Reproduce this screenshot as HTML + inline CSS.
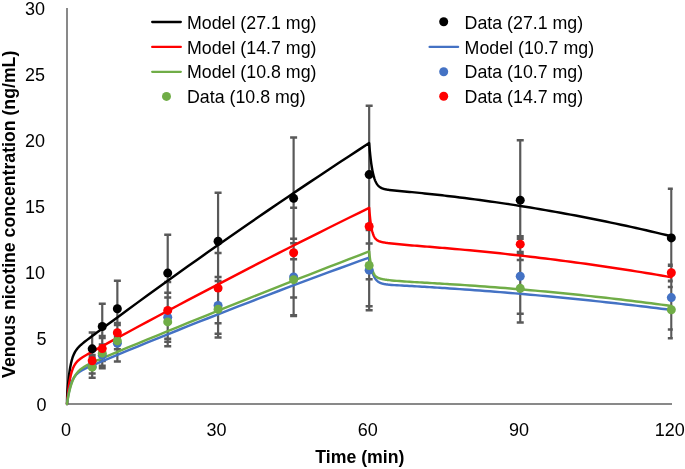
<!DOCTYPE html>
<html><head><meta charset="utf-8"><style>
html,body{margin:0;padding:0;background:#fff;}
svg{display:block;font-family:"Liberation Sans",sans-serif;will-change:transform;}
</style></head><body>
<svg width="685" height="469" viewBox="0 0 685 469">
<defs><clipPath id="pc"><rect x="0" y="0" width="672.8" height="469"/></clipPath></defs>
<rect width="685" height="469" fill="#fff"/>
<path d="M67,8V404H672" stroke="#898989" stroke-width="2" fill="none"/>
<path clip-path="url(#pc)" d="M92.18,332.46V365.19 M102.25,303.81V349.22 M117.36,280.71V336.68 M167.72,234.64V311.47 M218.08,192.80V289.69 M293.62,137.49V259.20 M369.16,105.68V243.49 M520.24,140.26V260.12 M671.32,188.84V287.05 M92.18,355.03V377.73 M102.25,344.47V365.85 M117.36,325.06V361.50 M167.72,292.72V341.83 M218.08,277.02V333.78 M293.62,238.74V315.30 M369.16,230.02V310.28 M520.24,238.74V313.71 M671.32,265.66V329.55 M92.18,360.84V373.51 M102.25,338.00V368.36 M117.36,332.46V349.35 M167.72,297.48V346.32 M218.08,280.98V337.47 M293.62,243.36V315.96 M369.16,224.88V306.19 M520.24,254.18V322.56 M671.32,281.24V338.26 M92.18,356.74V364.66 M102.25,336.02V361.10 M117.36,322.95V342.49 M167.72,282.03V338.79 M218.08,252.99V323.22 M293.62,207.85V297.61 M369.16,173.66V279.26 M520.24,236.23V252.07 M671.32,264.87V280.71" stroke="#595959" stroke-width="2.2" fill="none"/>
<path clip-path="url(#pc)" d="M88.68,332.46H95.68M88.68,365.19H95.68 M98.75,303.81H105.75M98.75,349.22H105.75 M113.86,280.71H120.86M113.86,336.68H120.86 M164.22,234.64H171.22M164.22,311.47H171.22 M214.58,192.80H221.58M214.58,289.69H221.58 M290.12,137.49H297.12M290.12,259.20H297.12 M365.66,105.68H372.66M365.66,243.49H372.66 M516.74,140.26H523.74M516.74,260.12H523.74 M667.82,188.84H674.82M667.82,287.05H674.82 M88.68,355.03H95.68M88.68,377.73H95.68 M98.75,344.47H105.75M98.75,365.85H105.75 M113.86,325.06H120.86M113.86,361.50H120.86 M164.22,292.72H171.22M164.22,341.83H171.22 M214.58,277.02H221.58M214.58,333.78H221.58 M290.12,238.74H297.12M290.12,315.30H297.12 M365.66,230.02H372.66M365.66,310.28H372.66 M516.74,238.74H523.74M516.74,313.71H523.74 M667.82,265.66H674.82M667.82,329.55H674.82 M88.68,360.84H95.68M88.68,373.51H95.68 M98.75,338.00H105.75M98.75,368.36H105.75 M113.86,332.46H120.86M113.86,349.35H120.86 M164.22,297.48H171.22M164.22,346.32H171.22 M214.58,280.98H221.58M214.58,337.47H221.58 M290.12,243.36H297.12M290.12,315.96H297.12 M365.66,224.88H372.66M365.66,306.19H372.66 M516.74,254.18H523.74M516.74,322.56H523.74 M667.82,281.24H674.82M667.82,338.26H674.82 M88.68,356.74H95.68M88.68,364.66H95.68 M98.75,336.02H105.75M98.75,361.10H105.75 M113.86,322.95H120.86M113.86,342.49H120.86 M164.22,282.03H171.22M164.22,338.79H171.22 M214.58,252.99H221.58M214.58,323.22H221.58 M290.12,207.85H297.12M290.12,297.61H297.12 M365.66,173.66H372.66M365.66,279.26H372.66 M516.74,236.23H523.74M516.74,252.07H523.74 M667.82,264.87H674.82M667.82,280.71H674.82" stroke="#595959" stroke-width="2.5" fill="none"/>
<path d="M67.00,404.00 L67.05,400.55 L67.10,398.19 L67.15,396.48 L67.20,395.19 L67.25,394.14 L67.30,393.24 L67.35,392.45 L67.40,391.72 L67.45,391.03 L67.50,390.37 L67.55,389.73 L67.60,389.11 L67.65,388.50 L67.71,387.91 L67.76,387.32 L67.76,387.32 L67.81,386.75 L67.86,386.18 L67.91,385.63 L67.96,385.08 L68.01,384.54 L68.26,381.96 L68.51,379.57 L68.76,377.35 L69.01,375.29 L69.27,373.38 L69.52,371.61 L69.77,369.95 L70.02,368.42 L70.27,366.99 L70.53,365.66 L70.78,364.41 L71.03,363.25 L71.28,362.17 L71.53,361.16 L71.78,360.21 L72.04,359.32 L72.29,358.49 L72.54,357.70 L72.79,356.97 L73.04,356.27 L73.30,355.62 L73.55,355.00 L73.80,354.42 L74.05,353.87 L74.30,353.34 L74.55,352.85 L74.81,352.37 L75.06,351.92 L75.31,351.49 L75.56,351.08 L75.81,350.69 L76.06,350.31 L76.32,349.95 L76.57,349.60 L76.82,349.26 L77.07,348.94 L77.32,348.62 L77.58,348.32 L77.83,348.02 L78.08,347.74 L78.33,347.46 L78.58,347.18 L78.83,346.92 L79.09,346.66 L79.34,346.41 L79.59,346.16 L79.84,345.91 L80.09,345.67 L80.35,345.44 L80.60,345.21 L80.85,344.98 L81.10,344.75 L81.35,344.53 L81.60,344.31 L81.86,344.09 L82.11,343.88 L84.63,341.82 L87.14,339.86 L89.66,337.95 L92.18,336.06 L94.70,334.18 L97.22,332.30 L99.73,330.43 L102.25,328.56 L104.77,326.69 L107.29,324.83 L117.36,317.39 L127.43,309.99 L137.50,302.63 L147.58,295.30 L157.65,288.01 L167.72,280.75 L177.79,273.53 L187.86,266.34 L197.94,259.19 L208.01,252.08 L218.08,245.00 L228.15,237.96 L238.22,230.95 L248.30,223.97 L258.37,217.04 L268.44,210.13 L278.51,203.27 L288.58,196.44 L298.66,189.64 L308.73,182.88 L318.80,176.16 L328.87,169.47 L338.94,162.81 L349.02,156.20 L359.09,149.61 L369.16,143.07 L369.41,146.18 L369.66,149.09 L369.92,151.79 L370.17,154.32 L370.42,156.67 L370.67,158.87 L370.92,160.91 L371.17,162.82 L371.43,164.60 L371.68,166.26 L371.93,167.81 L372.18,169.25 L372.43,170.60 L372.69,171.86 L372.94,173.03 L373.19,174.12 L373.44,175.14 L373.69,176.10 L373.94,176.98 L374.20,177.81 L374.45,178.59 L374.70,179.31 L374.95,179.99 L375.20,180.62 L375.45,181.20 L375.71,181.75 L375.96,182.27 L376.21,182.75 L376.46,183.20 L376.71,183.62 L376.97,184.01 L377.22,184.38 L377.47,184.72 L377.72,185.04 L377.97,185.34 L378.22,185.62 L378.48,185.89 L378.73,186.13 L378.98,186.37 L379.23,186.58 L379.48,186.79 L379.74,186.98 L379.99,187.16 L380.24,187.33 L380.49,187.49 L380.74,187.63 L380.99,187.78 L381.25,187.91 L381.50,188.03 L381.75,188.15 L382.00,188.26 L382.25,188.37 L382.51,188.46 L382.76,188.56 L383.01,188.65 L383.26,188.73 L383.51,188.81 L383.76,188.89 L384.02,188.96 L384.27,189.03 L384.52,189.09 L384.77,189.16 L385.02,189.22 L385.28,189.27 L385.53,189.33 L385.78,189.38 L386.03,189.43 L386.28,189.48 L386.53,189.52 L386.79,189.57 L387.04,189.61 L387.29,189.65 L387.54,189.69 L387.79,189.73 L388.04,189.77 L388.30,189.81 L388.55,189.84 L388.80,189.88 L389.05,189.91 L389.30,189.94 L391.82,190.24 L394.34,190.49 L396.86,190.73 L399.38,190.97 L401.89,191.20 L404.41,191.43 L406.93,191.67 L409.45,191.91 L411.97,192.15 L414.48,192.40 L417.00,192.64 L419.52,192.90 L422.04,193.15 L424.56,193.41 L427.07,193.68 L429.59,193.94 L432.11,194.21 L434.63,194.49 L437.15,194.77 L439.66,195.05 L442.18,195.33 L444.70,195.62 L447.22,195.91 L449.74,196.21 L454.77,196.81 L459.81,197.43 L464.84,198.06 L469.88,198.70 L474.92,199.36 L479.95,200.03 L484.99,200.72 L490.02,201.42 L495.06,202.14 L500.10,202.87 L505.13,203.62 L510.17,204.38 L515.20,205.15 L520.24,205.94 L525.28,206.74 L530.31,207.56 L535.35,208.39 L540.38,209.24 L545.42,210.09 L550.46,210.97 L555.49,211.86 L560.53,212.76 L565.56,213.68 L570.60,214.61 L575.64,215.55 L580.67,216.52 L585.71,217.49 L590.74,218.48 L595.78,219.48 L600.82,220.50 L605.85,221.53 L610.89,222.58 L615.92,223.64 L620.96,224.71 L626.00,225.80 L631.03,226.90 L636.07,228.02 L641.10,229.15 L646.14,230.30 L651.18,231.46 L656.21,232.64 L661.25,233.83 L666.28,235.03 L671.32,236.25" stroke="#000000" stroke-width="2.45" fill="none" stroke-linejoin="round" stroke-linecap="round"/>
<path d="M67.00,404.00 L67.05,403.37 L67.10,402.76 L67.15,402.15 L67.20,401.55 L67.25,400.96 L67.30,400.38 L67.35,399.81 L67.40,399.25 L67.45,398.69 L67.50,398.14 L67.55,397.60 L67.60,397.07 L67.65,396.55 L67.71,396.03 L67.76,395.53 L67.76,395.53 L67.81,395.02 L67.86,394.53 L67.91,394.05 L67.96,393.57 L68.01,393.09 L68.26,390.84 L68.51,388.74 L68.76,386.79 L69.01,384.98 L69.27,383.29 L69.52,381.72 L69.77,380.25 L70.02,378.89 L70.27,377.62 L70.53,376.44 L70.78,375.33 L71.03,374.30 L71.28,373.33 L71.53,372.43 L71.78,371.58 L72.04,370.79 L72.29,370.05 L72.54,369.35 L72.79,368.69 L73.04,368.08 L73.30,367.49 L73.55,366.95 L73.80,366.43 L74.05,365.94 L74.30,365.48 L74.55,365.04 L74.81,364.63 L75.06,364.23 L75.31,363.86 L75.56,363.50 L75.81,363.16 L76.06,362.84 L76.32,362.53 L76.57,362.23 L76.82,361.94 L77.07,361.67 L77.32,361.40 L77.58,361.15 L77.83,360.90 L78.08,360.66 L78.33,360.43 L78.58,360.21 L78.83,359.99 L79.09,359.78 L79.34,359.57 L79.59,359.37 L79.84,359.17 L80.09,358.98 L80.35,358.79 L80.60,358.61 L80.85,358.43 L81.10,358.25 L81.35,358.08 L81.60,357.91 L81.86,357.74 L82.11,357.57 L84.63,355.99 L87.14,354.52 L89.66,353.10 L92.18,351.70 L94.70,350.31 L97.22,348.93 L99.73,347.55 L102.25,346.17 L104.77,344.80 L107.29,343.42 L117.36,337.94 L127.43,332.48 L137.50,327.04 L147.58,321.62 L157.65,316.23 L167.72,310.85 L177.79,305.50 L187.86,300.17 L197.94,294.86 L208.01,289.57 L218.08,284.30 L228.15,279.05 L238.22,273.83 L248.30,268.62 L258.37,263.44 L268.44,258.28 L278.51,253.14 L288.58,248.02 L298.66,242.93 L308.73,237.85 L318.80,232.80 L328.87,227.77 L338.94,222.76 L349.02,217.77 L359.09,212.80 L369.16,207.85 L369.41,211.02 L369.66,213.88 L369.92,216.47 L370.17,218.81 L370.42,220.92 L370.67,222.84 L370.92,224.58 L371.17,226.15 L371.43,227.57 L371.68,228.86 L371.93,230.03 L372.18,231.09 L372.43,232.05 L372.69,232.92 L372.94,233.72 L373.19,234.44 L373.44,235.09 L373.69,235.69 L373.94,236.23 L374.20,236.73 L374.45,237.18 L374.70,237.59 L374.95,237.97 L375.20,238.31 L375.45,238.63 L375.71,238.92 L375.96,239.18 L376.21,239.43 L376.46,239.65 L376.71,239.86 L376.97,240.05 L377.22,240.23 L377.47,240.40 L377.72,240.55 L377.97,240.69 L378.22,240.82 L378.48,240.95 L378.73,241.06 L378.98,241.17 L379.23,241.27 L379.48,241.37 L379.74,241.46 L379.99,241.54 L380.24,241.62 L380.49,241.70 L380.74,241.77 L380.99,241.84 L381.25,241.91 L381.50,241.97 L381.75,242.03 L382.00,242.09 L382.25,242.15 L382.51,242.20 L382.76,242.25 L383.01,242.30 L383.26,242.35 L383.51,242.40 L383.76,242.45 L384.02,242.49 L384.27,242.54 L384.52,242.58 L384.77,242.62 L385.02,242.66 L385.28,242.70 L385.53,242.74 L385.78,242.78 L386.03,242.82 L386.28,242.85 L386.53,242.89 L386.79,242.93 L387.04,242.96 L387.29,243.00 L387.54,243.03 L387.79,243.07 L388.04,243.10 L388.30,243.13 L388.55,243.16 L388.80,243.20 L389.05,243.23 L389.30,243.26 L391.82,243.56 L394.34,243.83 L396.86,244.09 L399.38,244.33 L401.89,244.57 L404.41,244.79 L406.93,245.01 L409.45,245.22 L411.97,245.42 L414.48,245.63 L417.00,245.83 L419.52,246.03 L422.04,246.24 L424.56,246.44 L427.07,246.64 L429.59,246.84 L432.11,247.05 L434.63,247.25 L437.15,247.46 L439.66,247.67 L442.18,247.88 L444.70,248.09 L447.22,248.30 L449.74,248.52 L454.77,248.96 L459.81,249.40 L464.84,249.86 L469.88,250.33 L474.92,250.80 L479.95,251.29 L484.99,251.79 L490.02,252.29 L495.06,252.81 L500.10,253.34 L505.13,253.87 L510.17,254.42 L515.20,254.98 L520.24,255.54 L525.28,256.12 L530.31,256.71 L535.35,257.30 L540.38,257.91 L545.42,258.53 L550.46,259.15 L555.49,259.79 L560.53,260.44 L565.56,261.09 L570.60,261.76 L575.64,262.44 L580.67,263.13 L585.71,263.82 L590.74,264.53 L595.78,265.25 L600.82,265.97 L605.85,266.71 L610.89,267.46 L615.92,268.22 L620.96,268.99 L626.00,269.76 L631.03,270.55 L636.07,271.35 L641.10,272.16 L646.14,272.97 L651.18,273.80 L656.21,274.64 L661.25,275.49 L666.28,276.35 L671.32,277.22" stroke="#FF0000" stroke-width="2.45" fill="none" stroke-linejoin="round" stroke-linecap="round"/>
<path d="M67.00,404.00 L67.05,403.61 L67.10,403.23 L67.15,402.85 L67.20,402.47 L67.25,402.10 L67.30,401.74 L67.35,401.37 L67.40,401.02 L67.45,400.67 L67.50,400.32 L67.55,399.97 L67.60,399.63 L67.65,399.30 L67.71,398.97 L67.76,398.64 L67.76,398.64 L67.81,398.32 L67.86,398.00 L67.91,397.68 L67.96,397.37 L68.01,397.07 L68.26,395.58 L68.51,394.19 L68.76,392.88 L69.01,391.65 L69.27,390.48 L69.52,389.39 L69.77,388.36 L70.02,387.39 L70.27,386.47 L70.53,385.61 L70.78,384.80 L71.03,384.03 L71.28,383.30 L71.53,382.61 L71.78,381.96 L72.04,381.35 L72.29,380.76 L72.54,380.21 L72.79,379.69 L73.04,379.19 L73.30,378.72 L73.55,378.27 L73.80,377.85 L74.05,377.44 L74.30,377.05 L74.55,376.68 L74.81,376.33 L75.06,376.00 L75.31,375.68 L75.56,375.37 L75.81,375.07 L76.06,374.79 L76.32,374.52 L76.57,374.26 L76.82,374.01 L77.07,373.77 L77.32,373.53 L77.58,373.31 L77.83,373.09 L78.08,372.88 L78.33,372.68 L78.58,372.48 L78.83,372.29 L79.09,372.10 L79.34,371.92 L79.59,371.75 L79.84,371.57 L80.09,371.41 L80.35,371.24 L80.60,371.08 L80.85,370.93 L81.10,370.77 L81.35,370.62 L81.60,370.48 L81.86,370.33 L82.11,370.19 L84.63,368.87 L87.14,367.68 L89.66,366.55 L92.18,365.46 L94.70,364.38 L97.22,363.32 L99.73,362.26 L102.25,361.20 L104.77,360.15 L107.29,359.10 L117.36,354.91 L127.43,350.74 L137.50,346.60 L147.58,342.48 L157.65,338.38 L167.72,334.31 L177.79,330.26 L187.86,326.23 L197.94,322.22 L208.01,318.24 L218.08,314.27 L228.15,310.33 L238.22,306.42 L248.30,302.53 L258.37,298.65 L268.44,294.81 L278.51,290.98 L288.58,287.18 L298.66,283.40 L308.73,279.64 L318.80,275.91 L328.87,272.19 L338.94,268.50 L349.02,264.84 L359.09,261.19 L369.16,257.57 L369.41,259.22 L369.66,260.77 L369.92,262.22 L370.17,263.58 L370.42,264.86 L370.67,266.05 L370.92,267.18 L371.17,268.24 L371.43,269.23 L371.68,270.16 L371.93,271.03 L372.18,271.85 L372.43,272.62 L372.69,273.34 L372.94,274.02 L373.19,274.66 L373.44,275.26 L373.69,275.82 L373.94,276.35 L374.20,276.84 L374.45,277.31 L374.70,277.75 L374.95,278.16 L375.20,278.55 L375.45,278.91 L375.71,279.25 L375.96,279.57 L376.21,279.87 L376.46,280.16 L376.71,280.42 L376.97,280.68 L377.22,280.91 L377.47,281.13 L377.72,281.34 L377.97,281.54 L378.22,281.73 L378.48,281.90 L378.73,282.07 L378.98,282.22 L379.23,282.37 L379.48,282.50 L379.74,282.63 L379.99,282.76 L380.24,282.87 L380.49,282.98 L380.74,283.09 L380.99,283.18 L381.25,283.28 L381.50,283.36 L381.75,283.45 L382.00,283.53 L382.25,283.60 L382.51,283.67 L382.76,283.74 L383.01,283.80 L383.26,283.86 L383.51,283.92 L383.76,283.97 L384.02,284.03 L384.27,284.08 L384.52,284.12 L384.77,284.17 L385.02,284.21 L385.28,284.25 L385.53,284.29 L385.78,284.33 L386.03,284.37 L386.28,284.40 L386.53,284.43 L386.79,284.47 L387.04,284.50 L387.29,284.53 L387.54,284.56 L387.79,284.58 L388.04,284.61 L388.30,284.64 L388.55,284.66 L388.80,284.69 L389.05,284.71 L389.30,284.73 L391.82,284.93 L394.34,285.10 L396.86,285.25 L399.38,285.39 L401.89,285.53 L404.41,285.67 L406.93,285.81 L409.45,285.95 L411.97,286.09 L414.48,286.24 L417.00,286.38 L419.52,286.53 L422.04,286.68 L424.56,286.83 L427.07,286.98 L429.59,287.13 L432.11,287.28 L434.63,287.44 L437.15,287.60 L439.66,287.76 L442.18,287.92 L444.70,288.09 L447.22,288.25 L449.74,288.42 L454.77,288.76 L459.81,289.10 L464.84,289.46 L469.88,289.82 L474.92,290.19 L479.95,290.56 L484.99,290.94 L490.02,291.33 L495.06,291.73 L500.10,292.13 L505.13,292.54 L510.17,292.95 L515.20,293.38 L520.24,293.81 L525.28,294.25 L530.31,294.69 L535.35,295.14 L540.38,295.60 L545.42,296.06 L550.46,296.54 L555.49,297.02 L560.53,297.50 L565.56,298.00 L570.60,298.50 L575.64,299.00 L580.67,299.52 L585.71,300.04 L590.74,300.57 L595.78,301.10 L600.82,301.65 L605.85,302.19 L610.89,302.75 L615.92,303.31 L620.96,303.88 L626.00,304.46 L631.03,305.05 L636.07,305.64 L641.10,306.24 L646.14,306.84 L651.18,307.45 L656.21,308.07 L661.25,308.70 L666.28,309.33 L671.32,309.97" stroke="#4472C4" stroke-width="2.45" fill="none" stroke-linejoin="round" stroke-linecap="round"/>
<path d="M67.00,404.00 L67.05,403.67 L67.10,403.34 L67.15,403.01 L67.20,402.69 L67.25,402.37 L67.30,402.05 L67.35,401.74 L67.40,401.43 L67.45,401.12 L67.50,400.82 L67.55,400.52 L67.60,400.22 L67.65,399.92 L67.71,399.63 L67.76,399.33 L67.76,399.33 L67.81,399.05 L67.86,398.76 L67.91,398.48 L67.96,398.20 L68.01,397.92 L68.26,396.57 L68.51,395.28 L68.76,394.05 L69.01,392.87 L69.27,391.75 L69.52,390.67 L69.77,389.65 L70.02,388.67 L70.27,387.73 L70.53,386.83 L70.78,385.97 L71.03,385.15 L71.28,384.36 L71.53,383.61 L71.78,382.89 L72.04,382.20 L72.29,381.54 L72.54,380.90 L72.79,380.29 L73.04,379.71 L73.30,379.15 L73.55,378.61 L73.80,378.09 L74.05,377.60 L74.30,377.12 L74.55,376.66 L74.81,376.22 L75.06,375.79 L75.31,375.38 L75.56,374.99 L75.81,374.61 L76.06,374.24 L76.32,373.89 L76.57,373.54 L76.82,373.21 L77.07,372.89 L77.32,372.58 L77.58,372.29 L77.83,372.00 L78.08,371.72 L78.33,371.44 L78.58,371.18 L78.83,370.92 L79.09,370.68 L79.34,370.43 L79.59,370.20 L79.84,369.97 L80.09,369.75 L80.35,369.53 L80.60,369.32 L80.85,369.11 L81.10,368.91 L81.35,368.72 L81.60,368.52 L81.86,368.34 L82.11,368.15 L84.63,366.50 L87.14,365.08 L89.66,363.80 L92.18,362.62 L94.70,361.48 L97.22,360.38 L99.73,359.30 L102.25,358.23 L104.77,357.17 L107.29,356.11 L117.36,351.91 L127.43,347.73 L137.50,343.56 L147.58,339.41 L157.65,335.27 L167.72,331.14 L177.79,327.03 L187.86,322.93 L197.94,318.84 L208.01,314.77 L218.08,310.71 L228.15,306.66 L238.22,302.63 L248.30,298.61 L258.37,294.60 L268.44,290.61 L278.51,286.63 L288.58,282.67 L298.66,278.71 L308.73,274.78 L318.80,270.85 L328.87,266.94 L338.94,263.04 L349.02,259.16 L359.09,255.28 L369.16,251.43 L369.41,253.86 L369.66,256.06 L369.92,258.07 L370.17,259.89 L370.42,261.54 L370.67,263.05 L370.92,264.41 L371.17,265.66 L371.43,266.79 L371.68,267.82 L371.93,268.76 L372.18,269.62 L372.43,270.40 L372.69,271.11 L372.94,271.76 L373.19,272.36 L373.44,272.90 L373.69,273.40 L373.94,273.85 L374.20,274.27 L374.45,274.65 L374.70,275.00 L374.95,275.32 L375.20,275.62 L375.45,275.89 L375.71,276.15 L375.96,276.38 L376.21,276.59 L376.46,276.79 L376.71,276.98 L376.97,277.15 L377.22,277.31 L377.47,277.46 L377.72,277.60 L377.97,277.73 L378.22,277.85 L378.48,277.96 L378.73,278.07 L378.98,278.17 L379.23,278.27 L379.48,278.36 L379.74,278.44 L379.99,278.52 L380.24,278.60 L380.49,278.67 L380.74,278.74 L380.99,278.81 L381.25,278.87 L381.50,278.93 L381.75,278.99 L382.00,279.04 L382.25,279.10 L382.51,279.15 L382.76,279.20 L383.01,279.25 L383.26,279.30 L383.51,279.34 L383.76,279.39 L384.02,279.43 L384.27,279.47 L384.52,279.51 L384.77,279.55 L385.02,279.59 L385.28,279.63 L385.53,279.67 L385.78,279.71 L386.03,279.74 L386.28,279.78 L386.53,279.81 L386.79,279.84 L387.04,279.88 L387.29,279.91 L387.54,279.94 L387.79,279.97 L388.04,280.01 L388.30,280.04 L388.55,280.07 L388.80,280.10 L389.05,280.13 L389.30,280.15 L391.82,280.42 L394.34,280.67 L396.86,280.89 L399.38,281.09 L401.89,281.28 L404.41,281.46 L406.93,281.63 L409.45,281.79 L411.97,281.95 L414.48,282.10 L417.00,282.25 L419.52,282.40 L422.04,282.55 L424.56,282.69 L427.07,282.84 L429.59,282.98 L432.11,283.13 L434.63,283.28 L437.15,283.42 L439.66,283.57 L442.18,283.72 L444.70,283.88 L447.22,284.03 L449.74,284.18 L454.77,284.50 L459.81,284.82 L464.84,285.15 L469.88,285.49 L474.92,285.84 L479.95,286.19 L484.99,286.55 L490.02,286.93 L495.06,287.31 L500.10,287.69 L505.13,288.09 L510.17,288.50 L515.20,288.91 L520.24,289.33 L525.28,289.77 L530.31,290.21 L535.35,290.65 L540.38,291.11 L545.42,291.58 L550.46,292.05 L555.49,292.53 L560.53,293.02 L565.56,293.52 L570.60,294.03 L575.64,294.55 L580.67,295.07 L585.71,295.61 L590.74,296.15 L595.78,296.70 L600.82,297.26 L605.85,297.83 L610.89,298.40 L615.92,298.99 L620.96,299.58 L626.00,300.18 L631.03,300.79 L636.07,301.41 L641.10,302.04 L646.14,302.68 L651.18,303.32 L656.21,303.98 L661.25,304.64 L666.28,305.31 L671.32,305.99" stroke="#70AD47" stroke-width="2.45" fill="none" stroke-linejoin="round" stroke-linecap="round"/>
<circle cx="92.18" cy="348.82" r="4.5" fill="#000000"/>
<circle cx="102.25" cy="326.52" r="4.5" fill="#000000"/>
<circle cx="117.36" cy="308.70" r="4.5" fill="#000000"/>
<circle cx="167.72" cy="273.06" r="4.5" fill="#000000"/>
<circle cx="218.08" cy="241.24" r="4.5" fill="#000000"/>
<circle cx="293.62" cy="198.34" r="4.5" fill="#000000"/>
<circle cx="369.16" cy="174.58" r="4.5" fill="#000000"/>
<circle cx="520.24" cy="200.19" r="4.5" fill="#000000"/>
<circle cx="671.32" cy="237.94" r="4.5" fill="#000000"/>
<circle cx="92.18" cy="366.38" r="4.5" fill="#4472C4"/>
<circle cx="102.25" cy="355.16" r="4.5" fill="#4472C4"/>
<circle cx="117.36" cy="343.28" r="4.5" fill="#4472C4"/>
<circle cx="167.72" cy="317.28" r="4.5" fill="#4472C4"/>
<circle cx="218.08" cy="305.40" r="4.5" fill="#4472C4"/>
<circle cx="293.62" cy="277.02" r="4.5" fill="#4472C4"/>
<circle cx="369.16" cy="270.15" r="4.5" fill="#4472C4"/>
<circle cx="520.24" cy="276.22" r="4.5" fill="#4472C4"/>
<circle cx="671.32" cy="297.61" r="4.5" fill="#4472C4"/>
<circle cx="92.18" cy="367.17" r="4.5" fill="#70AD47"/>
<circle cx="102.25" cy="353.18" r="4.5" fill="#70AD47"/>
<circle cx="117.36" cy="340.90" r="4.5" fill="#70AD47"/>
<circle cx="167.72" cy="321.90" r="4.5" fill="#70AD47"/>
<circle cx="218.08" cy="309.22" r="4.5" fill="#70AD47"/>
<circle cx="293.62" cy="279.66" r="4.5" fill="#70AD47"/>
<circle cx="369.16" cy="265.53" r="4.5" fill="#70AD47"/>
<circle cx="520.24" cy="288.37" r="4.5" fill="#70AD47"/>
<circle cx="671.32" cy="309.75" r="4.5" fill="#70AD47"/>
<circle cx="92.18" cy="360.70" r="4.5" fill="#FF0000"/>
<circle cx="102.25" cy="348.56" r="4.5" fill="#FF0000"/>
<circle cx="117.36" cy="332.72" r="4.5" fill="#FF0000"/>
<circle cx="167.72" cy="310.41" r="4.5" fill="#FF0000"/>
<circle cx="218.08" cy="288.10" r="4.5" fill="#FF0000"/>
<circle cx="293.62" cy="252.73" r="4.5" fill="#FF0000"/>
<circle cx="369.16" cy="226.46" r="4.5" fill="#FF0000"/>
<circle cx="520.24" cy="244.15" r="4.5" fill="#FF0000"/>
<circle cx="671.32" cy="272.79" r="4.5" fill="#FF0000"/>
<g font-size="18" fill="#000">
<text x="46.5" y="411.15" text-anchor="end">0</text><text x="46.5" y="345.15" text-anchor="end">5</text><text x="45" y="279.15" text-anchor="end">10</text><text x="45" y="213.15" text-anchor="end">15</text><text x="45" y="147.15" text-anchor="end">20</text><text x="45" y="81.15" text-anchor="end">25</text><text x="45" y="15.15" text-anchor="end">30</text>
<text x="66.1" y="436" text-anchor="middle">0</text><text x="216.6" y="436" text-anchor="middle">30</text><text x="367.7" y="436" text-anchor="middle">60</text><text x="518.9" y="436" text-anchor="middle">90</text><text x="669.7" y="436" text-anchor="middle">120</text>
<path d="M152.2,22H180.8" stroke="#000" stroke-width="2.3" stroke-linecap="round"/><path d="M152.2,46.9H180.8" stroke="#FF0000" stroke-width="2.3" stroke-linecap="round"/><path d="M152.2,71.8H180.8" stroke="#70AD47" stroke-width="2.3" stroke-linecap="round"/><circle cx="166.5" cy="96.4" r="4.5" fill="#70AD47"/><path d="M429.6,46.9H458.1" stroke="#4472C4" stroke-width="2.3" stroke-linecap="round"/><circle cx="443.7" cy="21.8" r="4.5" fill="#000"/><circle cx="443.7" cy="71.8" r="4.5" fill="#4472C4"/><circle cx="443.7" cy="96.3" r="4.5" fill="#FF0000"/><text x="187" y="28.6" font-size="17.8">Model (27.1 mg)</text><text x="464.6" y="28.6" font-size="17.8">Data (27.1 mg)</text><text x="187" y="53.5" font-size="17.8">Model (14.7 mg)</text><text x="464.6" y="53.5" font-size="17.8">Model (10.7 mg)</text><text x="187" y="78.4" font-size="17.8">Model (10.8 mg)</text><text x="464.6" y="78.4" font-size="17.8">Data (10.7 mg)</text><text x="187" y="103.3" font-size="17.8">Data (10.8 mg)</text><text x="464.6" y="103.3" font-size="17.8">Data (14.7 mg)</text>
</g>
<text x="359.9" y="462.8" text-anchor="middle" font-size="17.7" font-weight="bold">Time (min)</text>
<text transform="translate(15.0,214.3) rotate(-90)" text-anchor="middle" font-size="17.7" font-weight="bold">Venous nicotine concentration (ng/mL)</text>
</svg>
</body></html>
